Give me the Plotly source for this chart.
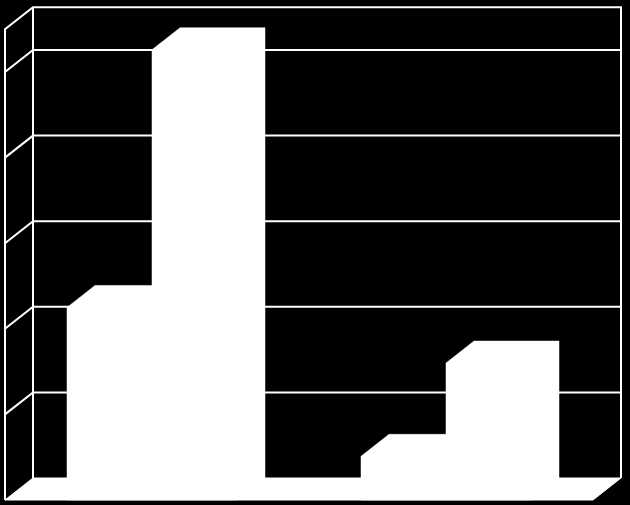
import plotly.graph_objects as go

# two unlabeled categories, two series of 3D columns
categories = [0, 1]
series_a = [2.25, 0.51]
series_b = [5.26, 1.60]
tick_values = [1, 2, 3, 4, 5]
y_max = 5.5

INK = "white"
BG = "black"

# geometry of the oblique (Excel-like) 3D projection, in data units
PX_X = 294.0          # pixels per category
PX_Y = 85.6           # pixels per value unit
DX = 28 / PX_X        # depth shift to the right
DY = 22 / PX_Y        # depth shift upward
X_RANGE = [-0.5 - 5 / PX_X, -0.5 + 625 / PX_X]
Y_RANGE = [-5 / PX_Y, 500 / PX_Y]
BAR_W = 85 / PX_X
GROUP_W = 2 * BAR_W

lo, hi = categories[0] - 0.5, categories[-1] + 0.5


def line(xs, ys, width=2):
    return go.Scatter(x=xs, y=ys, mode="lines", hoverinfo="skip",
                      line=dict(color=INK, width=width), showlegend=False,
                      xaxis="x", yaxis="y")


fig = go.Figure()

# walls: left side wall outline and back wall outline
fig.add_trace(line([lo, lo, lo + DX, hi + DX, hi + DX],
                   [0, y_max, y_max + DY, y_max + DY, DY]))
fig.add_trace(line([lo + DX, lo + DX], [DY, y_max + DY]))

# gridlines: diagonal on the side wall, then across the back wall
for v in tick_values:
    fig.add_trace(line([lo, lo + DX, hi + DX], [v, v + DY, v + DY]))

# floor
fig.add_trace(go.Scatter(
    x=[lo, lo + DX, hi + DX, hi, lo], y=[0, DY, DY, 0, 0],
    mode="lines", fill="toself", fillcolor=INK, line=dict(color=INK, width=1),
    hoverinfo="skip", showlegend=False, xaxis="x", yaxis="y"))

# columns on an overlaid axis pair so they sit above the walls
for i, vals in enumerate([series_a, series_b]):
    off = -GROUP_W / 2 + i * BAR_W
    fig.add_trace(go.Bar(x=categories, y=vals, width=BAR_W, offset=off,
                         marker=dict(color=INK, line=dict(width=0)),
                         hoverinfo="skip", showlegend=False,
                         xaxis="x2", yaxis="y2"))
    # whole column silhouette (front, top and side) so no seams show
    for c, v in zip(categories, vals):
        x0 = c + off
        x1 = x0 + BAR_W
        fig.add_trace(go.Scatter(
            x=[x0, x0, x0 + DX, x1 + DX, x1 + DX, x1, x0],
            y=[0, v, v + DY, v + DY, DY, 0, 0],
            mode="lines", fill="toself", fillcolor=INK,
            line=dict(color=INK, width=0.5), hoverinfo="skip",
            showlegend=False, xaxis="x2", yaxis="y2"))

hidden = dict(visible=False, showgrid=False, zeroline=False, fixedrange=True)
fig.update_layout(
    width=630, height=505, margin=dict(l=0, r=0, t=0, b=0),
    paper_bgcolor=BG, plot_bgcolor=BG, barmode="overlay",
    xaxis=dict(range=X_RANGE, **hidden),
    yaxis=dict(range=Y_RANGE, **hidden),
    xaxis2=dict(range=X_RANGE, overlaying="x", **hidden),
    yaxis2=dict(range=Y_RANGE, overlaying="y", **hidden),
)

# drop the default page margin so the chart fills the window exactly
fig.write_html("out.html", config={"displayModeBar": False},
               post_script="document.body.style.margin='0';"
                           "document.body.style.overflow='hidden';")
